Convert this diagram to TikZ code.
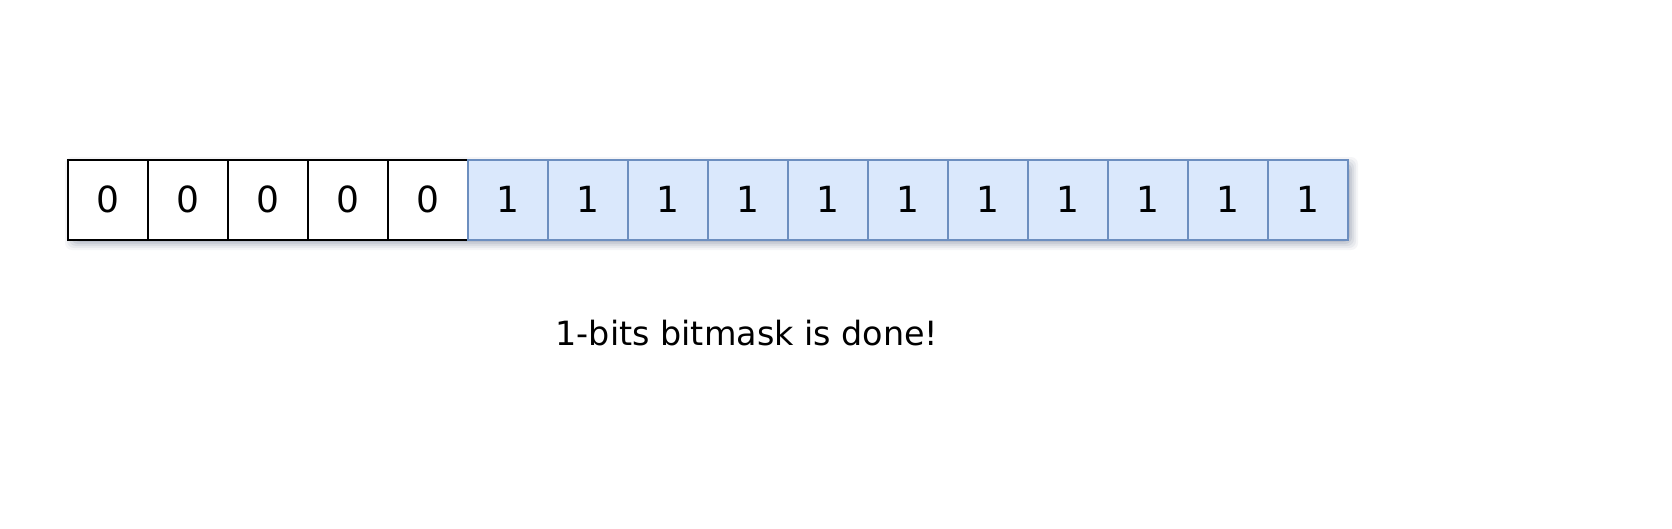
\documentclass[tikz,border=0pt]{standalone}
\usepackage{fontspec}
\setmainfont{DejaVu Sans}
\definecolor{bluefill}{HTML}{DAE8FC}
\definecolor{blueline}{HTML}{6C8EBF}
\definecolor{shadowcol}{HTML}{7A849A}
\tikzset{
  px/.style={x=0.02cm,y=-0.02cm},
  zerocell/.style={draw=black,line width=0.9pt,fill=white,minimum width=1.6cm,minimum height=1.6cm,inner sep=0pt,font=\fontsize{20.5}{24}\selectfont,anchor=north west},
  onecell/.style={draw=blueline,line width=0.9pt,fill=bluefill,minimum width=1.6cm,minimum height=1.6cm,inner sep=0pt,font=\fontsize{20.5}{24}\selectfont,anchor=north west},
  caption/.style={font=\fontsize{19}{22}\selectfont,inner sep=0pt,anchor=base}
}
\begin{document}
\begin{tikzpicture}[px]
\useasboundingbox (0,0) rectangle (1672,528);
\foreach \d/\o in {9/0.08,7/0.1,5/0.13,3/0.16,1/0.2}{
  \fill[shadowcol,opacity=\o,rounded corners=4] ({67+7-\d},{159+7-\d}) rectangle ({1347+2+\d},{239+2+\d});
}
\foreach \i in {1,...,5}{
  \node[zerocell] (c\i) at ({67+80*(\i-1)},159) {0};
}
\foreach \i in {6,...,16}{
  \node[onecell] (c\i) at ({67+80*(\i-1)},159) {1};
}
\node[caption] (msg) at (747,345) {1-bits bitmask is done!};
\end{tikzpicture}
\end{document}
